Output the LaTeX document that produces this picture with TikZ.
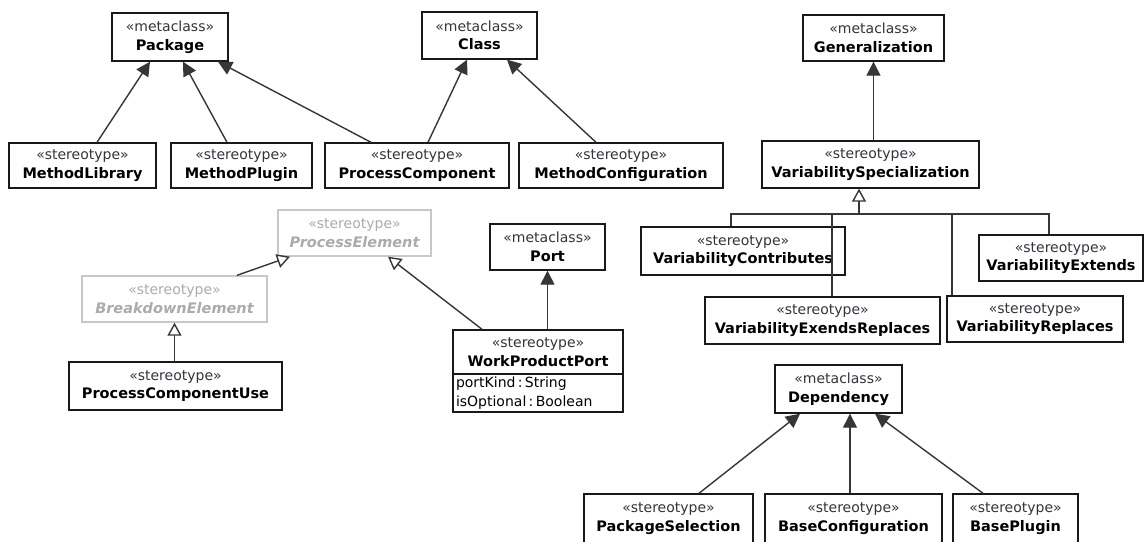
\documentclass[tikz,border=0pt]{standalone}
\usepackage{fontspec}
\setmainfont{DejaVu Sans}
\usetikzlibrary{arrows.meta}
\definecolor{stc}{HTML}{33333F}
\definecolor{lnc}{HTML}{363636}
\definecolor{grb}{HTML}{C8C8C8}
\definecolor{grt}{HTML}{ABABAB}
\newcommand{\stline}[1]{{\color{stc}\fontsize{14}{18.5}\selectfont #1}}
\newcommand{\nmline}[1]{{\fontsize{14.5}{18.5}\selectfont\bfseries #1}}
\newcommand{\ghline}[1]{{\fontsize{14.5}{18.5}\selectfont\bfseries\itshape #1}}
\tikzset{
  box/.style={draw=black!90, line width=1.4pt, fill=white, inner sep=0pt, align=center,
    font=\fontsize{14}{18.5}\selectfont},
  ghost/.style={box, draw=grb, text=grt},
  assoc/.style={draw=lnc, line width=1.4pt, -{Triangle[length=14pt,width=14pt]}},
  inher/.style={draw=lnc, line width=1.4pt, -{Triangle[open,length=13pt,width=14pt,fill=white]}},
  plain/.style={draw=lnc, line width=1.4pt}
}
\begin{document}
\begin{tikzpicture}[x=1pt,y=-1pt]
\useasboundingbox[fill=white] (0,0) rectangle (1146,541);
% metaclasses
\node[box, minimum width=116pt, minimum height=48pt] (pkg) at (170,37) {\stline{«metaclass»}\\\nmline{Package}};
\node[box, minimum width=115pt, minimum height=47pt] (cls) at (479.5,35.5) {\stline{«metaclass»}\\\nmline{Class}};
\node[box, minimum width=141pt, minimum height=46pt] (gen) at (873.5,38) {\stline{«metaclass»}\\\nmline{Generalization}};
\node[box, minimum width=115pt, minimum height=46pt] (port) at (547.5,247) {\stline{«metaclass»}\\\nmline{Port}};
\node[box, minimum width=127pt, minimum height=48pt] (dep) at (838.5,389) {\stline{«metaclass»}\\\nmline{Dependency}};
% top row stereotypes
\node[box, minimum width=147pt, minimum height=45pt] (ml) at (82.5,165.5) {\stline{«stereotype»}\\\nmline{MethodLibrary}};
\node[box, minimum width=141pt, minimum height=45pt] (mp) at (241.5,165.5) {\stline{«stereotype»}\\\nmline{MethodPlugin}};
\node[box, minimum width=184pt, minimum height=45pt] (pc) at (417,165.5) {\stline{«stereotype»}\\\nmline{ProcessComponent}};
\node[box, minimum width=204pt, minimum height=45pt] (mc) at (621,165.5) {\stline{«stereotype»}\\\nmline{MethodConfiguration}};
\node[box, minimum width=217pt, minimum height=47pt] (vs) at (870.5,164.5) {\stline{«stereotype»}\\\nmline{VariabilitySpecialization}};
% ghost elements
\node[ghost, minimum width=153pt, minimum height=46pt] (pe) at (354.5,233) {{\color{grt}\fontsize{14}{18.5}\selectfont«stereotype»}\\\ghline{ProcessElement}};
\node[ghost, minimum width=185pt, minimum height=46pt] (be) at (174.5,299) {{\color{grt}\fontsize{14}{18.5}\selectfont«stereotype»}\\\ghline{BreakdownElement}};
\node[box, minimum width=213pt, minimum height=48pt] (pcu) at (175.5,386) {\stline{«stereotype»}\\\nmline{ProcessComponentUse}};
% work product port
\node[box, minimum width=170pt, minimum height=44pt] (wpp) at (538,352) {\stline{«stereotype»}\\\nmline{WorkProductPort}};
\node[box, minimum width=170pt, minimum height=38pt, text width=164pt, align=left, inner xsep=3pt] (wppa) at (538,393) {\fontsize{14}{18}\selectfont portKind\,:\,String\\isOptional\,:\,Boolean};
% variability
\node[box, minimum width=204pt, minimum height=48pt] (vc) at (743,251) {\stline{«stereotype»}\\\nmline{VariabilityContributes}};
\node[box, minimum width=164pt, minimum height=46pt] (ve) at (1061,258) {\stline{«stereotype»}\\\nmline{VariabilityExtends}};
\node[box, minimum width=235pt, minimum height=47pt] (ver) at (822.5,320.5) {\stline{«stereotype»}\\\nmline{VariabilityExendsReplaces}};
\node[box, minimum width=176pt, minimum height=46pt] (vr) at (1035,319) {\stline{«stereotype»}\\\nmline{VariabilityReplaces}};
% dependency children
\node[box, minimum width=169pt, minimum height=49pt] (ps) at (668.5,518.5) {\stline{«stereotype»}\\\nmline{PackageSelection}};
\node[box, minimum width=177pt, minimum height=49pt] (bc) at (853.5,518.5) {\stline{«stereotype»}\\\nmline{BaseConfiguration}};
\node[box, minimum width=125pt, minimum height=49pt] (bp) at (1015.5,518.5) {\stline{«stereotype»}\\\nmline{BasePlugin}};
% connectors: extensions (filled)
\draw[assoc] ([xshift=14.5pt]ml.north) -- ([xshift=-20pt]pkg.south);
\draw[assoc] ([xshift=-14.5pt]mp.north) -- ([xshift=13pt]pkg.south);
\draw[assoc] ([xshift=-46pt]pc.north) -- ([xshift=48pt]pkg.south);
\draw[assoc] ([xshift=11pt]pc.north) -- ([xshift=-12.5pt]cls.south);
\draw[assoc] ([xshift=-25pt]mc.north) -- ([xshift=27.5pt]cls.south);
\draw[assoc] (vs.north -| gen.south) -- (gen.south);
\draw[assoc] (port.south |- wpp.north) -- (port.south);
\draw[assoc] ([xshift=30.5pt]ps.north) -- ([xshift=-38.5pt]dep.south);
\draw[assoc] ([xshift=-3.5pt]bc.north) -- ([xshift=11.5pt]dep.south);
\draw[assoc] ([xshift=-32.5pt]bp.north) -- ([xshift=36.5pt]dep.south);
% generalizations (hollow)
\draw[inher] (be.south |- pcu.north) -- (be.south);
\draw[inher] ([xshift=62.5pt]be.north) -- ([xshift=-64.5pt]pe.south);
\draw[inher] ([xshift=-56pt]wpp.north) -- ([xshift=33.5pt]pe.south);
% variability tree
\coordinate (bus) at (859,214);
\coordinate (busL) at (731,214);
\coordinate (busR) at (1049,214);
\draw[plain] ([xshift=-12pt]vc.north) -- (busL) -- (busR) -- (ve.north -| busR);
\draw[plain] ([xshift=9.5pt]ver.north) -- ([xshift=9.5pt]ver.north |- bus);
\draw[plain] ([xshift=-83pt]vr.north) -- ([xshift=-83pt]vr.north |- bus);
\draw[inher] (bus) -- ([xshift=-11.5pt]vs.south);
\end{tikzpicture}
\end{document}
